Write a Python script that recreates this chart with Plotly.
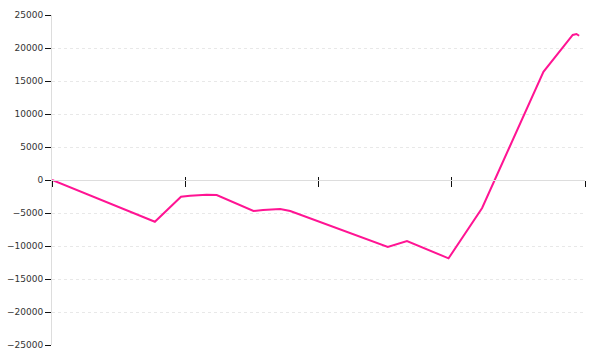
import plotly.graph_objects as go

# x positions (arbitrary time units, axis 0..100, ticks every 25)
x_vals = [0, 19.3, 24.2, 25.9, 29.0, 30.9, 37.8, 39.6, 42.8, 44.7, 63.0, 66.6, 74.4, 80.7, 92.2, 97.7, 98.4, 98.9]
y_vals = [0, -6320, -2530, -2380, -2230, -2270, -4700, -4550, -4400, -4700, -10150, -9240, -11870, -4240, 16400, 21970, 22120, 21860]
y_ticks = [-25000, -20000, -15000, -10000, -5000, 0, 5000, 10000, 15000, 20000, 25000]
x_ticks = [0, 25, 50, 75, 100]

fig = go.Figure()
fig.add_trace(go.Scatter(x=x_vals, y=y_vals, mode="lines",
                         line=dict(color="#ff1493", width=2), showlegend=False,
                         hoverinfo="skip"))
# invisible trace for overlay axis
fig.add_trace(go.Scatter(x=[x_ticks[0], x_ticks[-1]], y=[0, 0], mode="lines",
                         line=dict(width=0), xaxis="x2", showlegend=False, hoverinfo="skip"))

font = dict(family="DejaVu Sans", size=9, color="#333")
fig.update_layout(
    width=600, height=360,
    margin=dict(l=52, r=15, t=15, b=15),
    paper_bgcolor="white", plot_bgcolor="white",
    font=font,
    xaxis=dict(range=[0, 100], tickvals=x_ticks, showticklabels=False,
               showgrid=False, zeroline=False, automargin=False,
               showline=True, linecolor="#dddddd", linewidth=1,
               ticks="outside", ticklen=6, tickcolor="#111", tickwidth=1,
               anchor="free", position=0.5),
    xaxis2=dict(range=[0, 100], tickvals=x_ticks, showticklabels=False,
                showgrid=False, zeroline=False, showline=False, automargin=False,
                ticks="inside", ticklen=3, tickcolor="#111", tickwidth=1,
                overlaying="x", anchor="free", position=0.5),
    yaxis=dict(range=[-25000, 25000], tickvals=y_ticks, tickformat="d",
               showgrid=True, gridcolor="#e8e8e8", griddash="3px,3px", gridwidth=1,
               zeroline=False, showline=True, linecolor="#dddddd", linewidth=1,
               ticks="outside", ticklen=6, tickcolor="#111", tickwidth=1,
               automargin=False, tickfont=font),
)
fig.write_html("out.html")
